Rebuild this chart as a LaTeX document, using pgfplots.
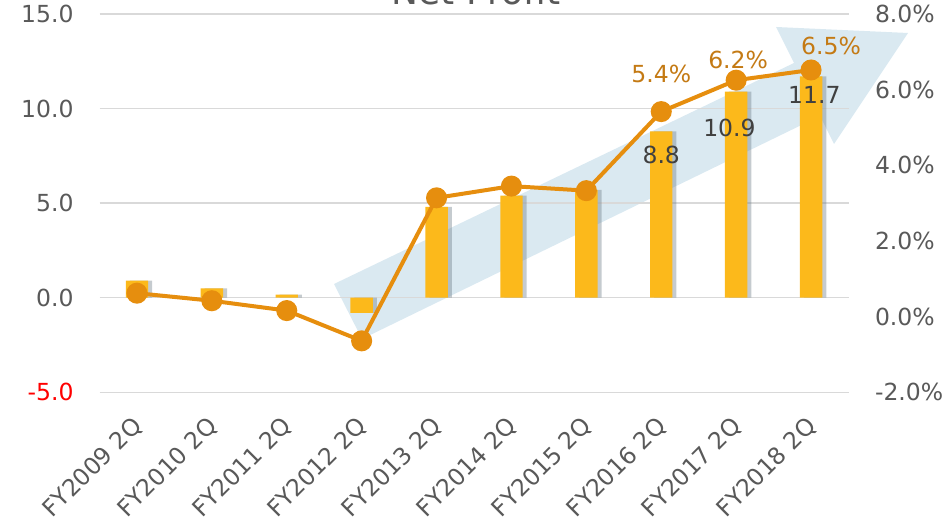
\documentclass[border=0pt]{standalone}
\usepackage{fontspec}
\setmainfont{DejaVu Sans}
\usepackage{pgfplots}
\usepackage{pgfplotstable}
\pgfplotsset{compat=1.18}
\definecolor{barc}{RGB}{252,185,27}
\definecolor{linec}{RGB}{230,142,14}
\definecolor{pctc}{RGB}{196,122,20}
\definecolor{tickc}{RGB}{89,89,89}
\definecolor{labc}{RGB}{64,64,64}
\definecolor{gridc}{RGB}{217,217,217}
\definecolor{arrowc}{RGB}{218,233,241}
\definecolor{shadowc}{RGB}{110,125,135}
\newcommand{\tf}{\fontsize{23.5}{28}\selectfont}
\pgfplotstableread{
x y
0 0.9
1 0.5
2 0.17
3 -0.8
4 4.8
5 5.4
6 5.7
7 8.8
8 10.9
9 11.7
}\bars
\pgfplotstableread{
x y
0 0.62
1 0.42
2 0.16
3 -0.64
4 3.14
5 3.45
6 3.33
7 5.42
8 6.25
9 6.52
}\pct
\begin{document}
\begin{tikzpicture}[x=1pt,y=1pt]
\useasboundingbox (0,0) rectangle (943,526);
\clip (0,0) rectangle (943,526);
\fill[arrowc] (334,242) -- (794,463) -- (776,499) -- (908,493) -- (834,382) -- (820,410) -- (362,187) -- cycle;
\node[font=\fontsize{36}{40}\selectfont, color=tickc, anchor=base] at (476,521) {Net Profit};
\begin{axis}[
  at={(99.5pt,133.7pt)}, anchor=south west,
  scale only axis, width=749pt, height=378.3pt,
  xmin=-0.5, xmax=9.5, ymin=-5, ymax=15,
  ybar, bar width=22.4pt,
  axis line style={draw=none},
  major tick length=0pt,
  xtick={0,...,9},
  xticklabels={FY2009 2Q,FY2010 2Q,FY2011 2Q,FY2012 2Q,FY2013 2Q,FY2014 2Q,FY2015 2Q,FY2016 2Q,FY2017 2Q,FY2018 2Q},
  xticklabel style={xshift=-6pt, yshift=-18pt, rotate=45, anchor=north east, font=\tf, color=tickc},
  ytick={-5,0,5,10,15},
  yticklabels={\textcolor{red}{-5.0},0.0,5.0,10.0,15.0},
  yticklabel style={xshift=-22.5pt, font=\tf, color=tickc},
  ymajorgrids, grid style={gridc, line width=1.5pt},
]
\addplot[fill=shadowc, draw=none, opacity=0.4, bar shift=4pt] table {\bars};
\addplot[fill=barc, draw=none, bar shift=0pt] table {\bars};
\node[font=\tf, color=labc, yshift=-23.3pt] at (axis cs:7,8.8) {8.8};
\node[font=\tf, color=labc, yshift=-36.3pt, xshift=-6.7pt] at (axis cs:8,10.9) {10.9};
\node[font=\tf, color=labc, yshift=-18.3pt, xshift=3.3pt] at (axis cs:9,11.7) {11.7};
\end{axis}
\begin{axis}[
  at={(99.5pt,133.7pt)}, anchor=south west,
  scale only axis, width=749pt, height=378.3pt,
  xmin=-0.5, xmax=9.5, ymin=-2, ymax=8,
  axis line style={draw=none},
  major tick length=0pt,
  xtick=\empty,
  ytick={-2,0,2,4,6,8},
  yticklabels={-2.0\%,0.0\%,2.0\%,4.0\%,6.0\%,8.0\%},
  yticklabel pos=right,
  yticklabel style={xshift=23pt, font=\tf, color=tickc},
  clip=false,
]
\addplot[linec, line width=4pt, mark=*, mark size=8.5pt, mark options={fill=linec, draw=linec}] table {\pct};
\node[font=\tf, color=pctc, yshift=38pt] at (axis cs:7,5.42) {5.4\%};
\node[font=\tf, color=pctc, yshift=20pt, xshift=2pt] at (axis cs:8,6.25) {6.2\%};
\node[font=\tf, color=pctc, yshift=24pt, xshift=20pt] at (axis cs:9,6.52) {6.5\%};
\end{axis}
\end{tikzpicture}
\end{document}
